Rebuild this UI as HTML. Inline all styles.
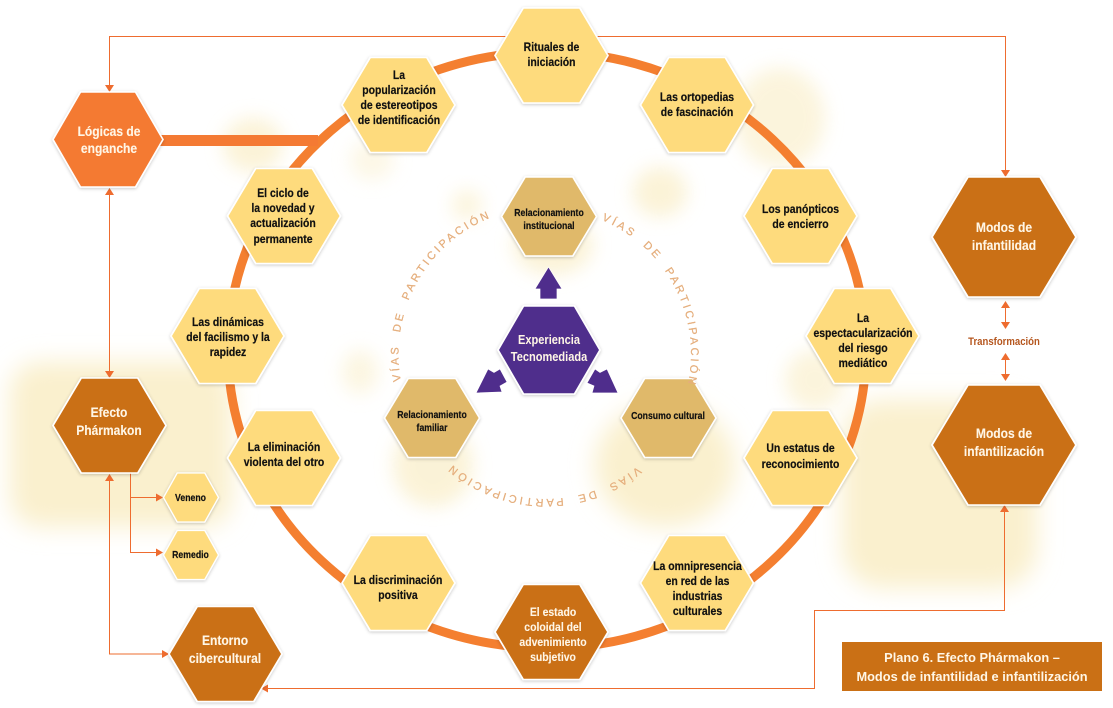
<!DOCTYPE html>
<html><head><meta charset="utf-8"><style>
html,body{margin:0;padding:0;background:#fff}
svg{display:block}
text{font-family:"Liberation Sans",Arial,sans-serif;font-weight:700;text-anchor:middle}
.d{font-size:12px;fill:#111;stroke:#111;stroke-width:.2}
.s{font-size:10px;fill:#111;stroke:#111;stroke-width:.2}
.w{font-size:14px;fill:#fff6e6;stroke:#fff6e6;stroke-width:.12}
.c{stroke:#ee6c2f;stroke-width:1;fill:none}
.a{fill:#ee6c2f}
.vt{font-size:11px;font-weight:400;fill:#e5ae7c;stroke:#e5ae7c;stroke-width:.25;text-anchor:start;letter-spacing:2.9px}
</style></head><body>
<svg width="1113" height="708" viewBox="0 0 1113 708" xmlns="http://www.w3.org/2000/svg">
<defs>
<filter id="b20" x="-50%" y="-50%" width="200%" height="200%"><feGaussianBlur stdDeviation="12"/></filter>
<filter id="b10" x="-50%" y="-50%" width="200%" height="200%"><feGaussianBlur stdDeviation="9"/></filter>
<filter id="sh" x="-5%" y="-5%" width="110%" height="110%"><feDropShadow dx="0" dy="1" stdDeviation="1.5" flood-color="#000" flood-opacity=".22"/></filter>
<polygon id="h" points="-1,0 -.5,-1 .5,-1 1,0 .5,1 -.5,1"/>
</defs>

<g fill="#faf0ce">
<rect x="10" y="362" width="222" height="165" rx="30" filter="url(#b20)"/>
<rect x="842" y="400" width="195" height="188" rx="40" filter="url(#b20)"/>
<ellipse cx="665" cy="465" rx="70" ry="62" filter="url(#b20)"/>
<ellipse cx="433" cy="465" rx="40" ry="42" filter="url(#b10)" opacity=".8"/>
<ellipse cx="780" cy="118" rx="45" ry="50" filter="url(#b10)" opacity=".7"/>
<ellipse cx="253" cy="145" rx="30" ry="27" filter="url(#b10)" opacity=".8"/>
<ellipse cx="660" cy="192" rx="27" ry="25" filter="url(#b10)" opacity=".8"/>
<ellipse cx="372" cy="160" rx="22" ry="20" filter="url(#b10)" opacity=".5"/>
<ellipse cx="467" cy="205" rx="15" ry="15" filter="url(#b10)" opacity=".7"/>
<ellipse cx="553" cy="245" rx="40" ry="30" filter="url(#b10)" opacity=".8"/>
<ellipse cx="360" cy="372" rx="18" ry="22" filter="url(#b10)" opacity=".6"/>
<ellipse cx="815" cy="380" rx="30" ry="30" filter="url(#b10)" opacity=".7"/>
</g>

<ellipse cx="547" cy="350" rx="319" ry="298" fill="none" stroke="#f47f30" stroke-width="9"/>
<rect x="155" y="135" width="163" height="11" fill="#f47a33"/>

<path class="c" d="M109.500 92V36.500H1005.500V170"/>
<polygon class="a" points="105,85 114,85 109.500,92"/>
<polygon class="a" points="1001,170 1010,170 1005.500,177"/>
<path class="c" d="M109.500 195V371"/>
<polygon class="a" points="109.500,188 105,195 114,195"/>
<polygon class="a" points="105,371 114,371 109.500,378"/>
<path class="c" d="M109.500 481V654H162"/>
<polygon class="a" points="109.500,474 105,481 114,481"/>
<polygon class="a" points="162,650 162,658 169,654"/>
<path class="c" d="M130.500 473V552.500H156M130.500 497.500H156"/>
<polygon class="a" points="156,493.500 156,501.500 163,497.500"/>
<polygon class="a" points="156,548.500 156,556.500 163,552.500"/>
<path class="c" d="M1004.500 512V610.500H814.500V688.500H268"/>
<polygon class="a" points="1004.500,505 1000,512 1009,512"/>
<polygon class="a" points="268,684.500 268,692.500 261,688.500"/>
<path class="c" d="M1005.500 307V323M1005.500 359V375"/>
<polygon class="a" points="1005.500,301 1001,308 1010,308"/>
<polygon class="a" points="1001,322 1010,322 1005.500,329"/>
<polygon class="a" points="1005.500,353 1001,360 1010,360"/>
<polygon class="a" points="1001,374 1010,374 1005.500,381"/>

<g filter="url(#sh)">
<use href="#h" transform="translate(551.500,55.500) scale(56.500,47.500)" fill="#fedb7d" stroke="#fff" stroke-width=".03"/>
<use href="#h" transform="translate(398.500,105) scale(56.500,47.500)" fill="#fedb7d" stroke="#fff" stroke-width=".03"/>
<use href="#h" transform="translate(697,105) scale(56.500,47.500)" fill="#fedb7d" stroke="#fff" stroke-width=".03"/>
<use href="#h" transform="translate(800.500,216) scale(56.500,47.500)" fill="#fedb7d" stroke="#fff" stroke-width=".03"/>
<use href="#h" transform="translate(284,216) scale(56.500,47.500)" fill="#fedb7d" stroke="#fff" stroke-width=".03"/>
<use href="#h" transform="translate(227.500,336) scale(56.500,47.500)" fill="#fedb7d" stroke="#fff" stroke-width=".03"/>
<use href="#h" transform="translate(862.500,336) scale(56.500,47.500)" fill="#fedb7d" stroke="#fff" stroke-width=".03"/>
<use href="#h" transform="translate(800.500,458) scale(56.500,47.500)" fill="#fedb7d" stroke="#fff" stroke-width=".03"/>
<use href="#h" transform="translate(284,458) scale(56.500,47.500)" fill="#fedb7d" stroke="#fff" stroke-width=".03"/>
<use href="#h" transform="translate(398.500,583) scale(56.500,47.500)" fill="#fedb7d" stroke="#fff" stroke-width=".03"/>
<use href="#h" transform="translate(697,583) scale(56.500,47.500)" fill="#fedb7d" stroke="#fff" stroke-width=".03"/>
<use href="#h" transform="translate(551.500,632) scale(56.500,47.500)" fill="#ca7015" stroke="#fff" stroke-width=".03"/>
<use href="#h" transform="translate(108,139.500) scale(55,47.500)" fill="#f47a33" stroke="#fff" stroke-width=".03"/>
<use href="#h" transform="translate(109.500,425.500) scale(56.500,47.500)" fill="#ca7015" stroke="#fff" stroke-width=".03"/>
<use href="#h" transform="translate(225.500,654) scale(56.500,47.500)" fill="#ca7015" stroke="#fff" stroke-width=".03"/>
<use href="#h" transform="translate(191,497.500) scale(27.500,24.500)" fill="#fedb7d" stroke="#fff" stroke-width=".05"/>
<use href="#h" transform="translate(191,555) scale(27.500,24.500)" fill="#fedb7d" stroke="#fff" stroke-width=".05"/>
<use href="#h" transform="translate(1004,237) scale(72,60)" fill="#ca7015" stroke="#fff" stroke-width=".025"/>
<use href="#h" transform="translate(1004,445) scale(72,60)" fill="#ca7015" stroke="#fff" stroke-width=".025"/>
<use href="#h" transform="translate(549,216.500) scale(47.500,39.500)" fill="#e0b96b" stroke="#fff" stroke-width=".035"/>
<use href="#h" transform="translate(432,418) scale(47.500,39.500)" fill="#e0b96b" stroke="#fff" stroke-width=".035"/>
<use href="#h" transform="translate(668.500,418) scale(47.500,39.500)" fill="#e0b96b" stroke="#fff" stroke-width=".035"/>
<use href="#h" transform="translate(549,350) scale(51,44)" fill="#4f2d8c" stroke="#fff" stroke-width=".035"/>
</g>

<g fill="#4f2d8c" stroke="#fff" stroke-width=".7">
<polygon points="548.500,267 562,289 557,289 557,299 540,299 540,289 535,289"/>
<polygon points="476,393 488,369 494,372.500 500,369 507,382 500,386 502,392"/>
<polygon points="618,393 607,369 600,372.500 595,369 587,383 594,386 592,393"/>
</g>

<path id="a1" d="M401 381A147 147 0 0 1 546 207A147 147 0 0 1 693 354" fill="none"/>
<path id="a2" d="M601.700 220A145 145 0 0 1 691 354A145 145 0 0 1 546 499" fill="none"/>
<path id="a3" d="M637.500 466.500A145 145 0 0 1 546 499A145 145 0 0 1 401 354" fill="none"/>
<text class="vt"><textPath href="#a1">VÍAS&#160;&#160;DE&#160;&#160;PARTICIPACIÓN</textPath></text>
<text class="vt"><textPath href="#a2">VÍAS&#160;&#160;DE&#160;&#160;PARTICIPACIÓN</textPath></text>
<text class="vt"><textPath href="#a3">VÍAS&#160;&#160;DE&#160;&#160;PARTICIPACIÓN</textPath></text>

<g transform="translate(551.500,0) scale(.87,1)"><text class="d" y="51">Rituales de</text><text class="d" y="66">iniciación</text></g>
<g transform="translate(399,0) scale(.87,1)"><text class="d" y="79">La</text><text class="d" y="94">popularización</text><text class="d" y="109">de estereotipos</text><text class="d" y="124">de identificación</text></g>
<g transform="translate(697,0) scale(.87,1)"><text class="d" y="101">Las ortopedias</text><text class="d" y="116">de fascinación</text></g>
<g transform="translate(800.500,0) scale(.87,1)"><text class="d" y="213">Los panópticos</text><text class="d" y="228">de encierro</text></g>
<g transform="translate(283,0) scale(.87,1)"><text class="d" y="197">El ciclo de</text><text class="d" y="212">la novedad y</text><text class="d" y="227">actualización</text><text class="d" y="243">permanente</text></g>
<g transform="translate(228,0) scale(.87,1)"><text class="d" y="326">Las dinámicas</text><text class="d" y="341">del facilismo y la</text><text class="d" y="356">rapidez</text></g>
<g transform="translate(863,0) scale(.87,1)"><text class="d" y="322">La</text><text class="d" y="337">espectacularización</text><text class="d" y="352">del riesgo</text><text class="d" y="367">mediático</text></g>
<g transform="translate(800.500,0) scale(.87,1)"><text class="d" y="452">Un estatus de</text><text class="d" y="468">reconocimiento</text></g>
<g transform="translate(284,0) scale(.87,1)"><text class="d" y="451">La eliminación</text><text class="d" y="466">violenta del otro</text></g>
<g transform="translate(398,0) scale(.87,1)"><text class="d" y="584">La discriminación</text><text class="d" y="599">positiva</text></g>
<g transform="translate(697.500,0) scale(.87,1)"><text class="d" y="570">La omnipresencia</text><text class="d" y="585">en red de las</text><text class="d" y="600">industrias</text><text class="d" y="615">culturales</text></g>
<g transform="translate(553,0) scale(.87,1)"><text class="d" y="616" style="fill:#fff6e6;stroke:#fff6e6;stroke-width:.1">El estado</text><text class="d" y="631" style="fill:#fff6e6;stroke:#fff6e6;stroke-width:.1">coloidal del</text><text class="d" y="646" style="fill:#fff6e6;stroke:#fff6e6;stroke-width:.1">advenimiento</text><text class="d" y="661" style="fill:#fff6e6;stroke:#fff6e6;stroke-width:.1">subjetivo</text></g>

<g transform="translate(109,0) scale(.86,1)"><text class="w" y="136">Lógicas de</text><text class="w" y="153">enganche</text></g>
<g transform="translate(109,0) scale(.86,1)"><text class="w" y="417">Efecto</text><text class="w" y="435">Phármakon</text></g>
<g transform="translate(225,0) scale(.86,1)"><text class="w" y="645">Entorno</text><text class="w" y="663">cibercultural</text></g>
<g transform="translate(1004,0) scale(.86,1)"><text class="w" y="232">Modos de</text><text class="w" y="250">infantilidad</text></g>
<g transform="translate(1004,0) scale(.86,1)"><text class="w" y="438">Modos de</text><text class="w" y="456">infantilización</text></g>
<g transform="translate(549,0) scale(.85,1)"><text style="font-size:13px;fill:#fff6e6" y="344">Experiencia</text><text style="font-size:13px;fill:#fff6e6" y="361">Tecnomediada</text></g>
<g transform="translate(549,0) scale(.87,1)"><text class="s" y="216">Relacionamiento</text><text class="s" y="229">institucional</text></g>
<g transform="translate(432,0) scale(.87,1)"><text class="s" y="418">Relacionamiento</text><text class="s" y="431">familiar</text></g>
<g transform="translate(668,0) scale(.87,1)"><text class="s" y="419">Consumo cultural</text></g>
<g transform="translate(190.500,0) scale(.87,1)"><text class="s" y="501">Veneno</text><text class="s" y="558">Remedio</text></g>
<g transform="translate(1004,0) scale(.87,1)"><text y="345" style="font-size:11px;fill:#b5561e">Transformación</text></g>

<rect x="842" y="642" width="260" height="49" fill="#ca7015"/>
<text x="972" y="662" style="font-size:12.800px;fill:#fff6e6">Plano 6. Efecto Phármakon –</text>
<text x="972" y="681" style="font-size:12.800px;fill:#fff6e6">Modos de infantilidad e infantilización</text>
</svg>
</body></html>
